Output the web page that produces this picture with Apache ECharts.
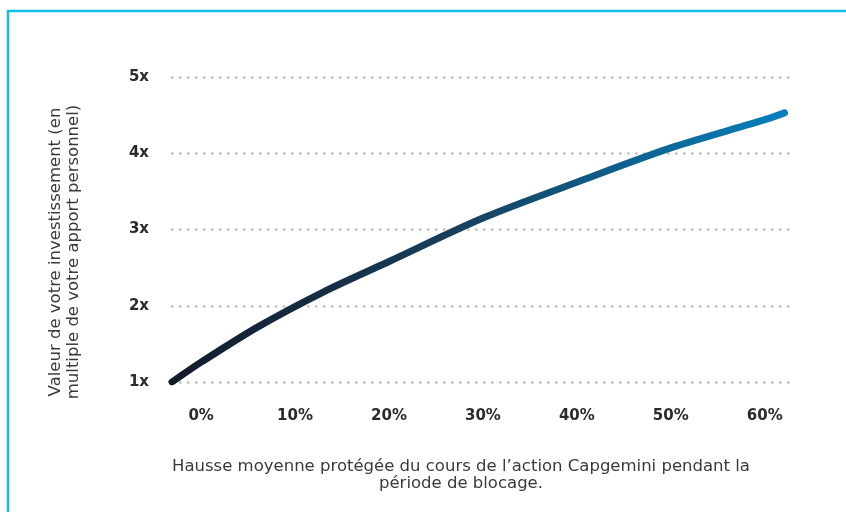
<!DOCTYPE html>
<html>
<head>
<meta charset="utf-8">
<script src="https://cdn.jsdelivr.net/npm/echarts@6/dist/echarts.min.js"></script>
<style>
  html, body { margin: 0; padding: 0; background: #fff; }
  #chart { width: 846px; height: 512px; }
</style>
</head>
<body>
<div id="chart"></div>
<script>
  // hausse moyenne protégée (%) et valeur de l'investissement (multiple)
  var hausse = [-3.1, 0, 6, 13, 20, 30, 40, 50, 60, 62.1];
  var valeur = [1.0, 1.26, 1.72, 2.18, 2.58, 3.15, 3.62, 4.07, 4.44, 4.53];
  var xTicks = [0, 10, 20, 30, 40, 50, 60];
  var yTicks = [1, 2, 3, 4, 5];

  var points = hausse.map(function (h, i) { return [h, valeur[i]]; });

  var myChart = echarts.init(document.getElementById('chart'));
  var textFont = '"DejaVu Sans", sans-serif';

  var option = {
    animation: false,
    grid: { left: 172, right: 54, top: 77, bottom: 130 },
    xAxis: {
      type: 'value',
      min: -3.1,
      max: 62.9,
      axisLine: { show: false },
      axisTick: { show: false },
      splitLine: { show: false },
      axisLabel: {
        customValues: xTicks,
        formatter: '{value}%',
        margin: 27,
        fontSize: 15,
        fontWeight: 'bold',
        fontFamily: textFont,
        color: '#2b2b2b'
      }
    },
    yAxis: {
      type: 'value',
      min: yTicks[0],
      max: yTicks[yTicks.length - 1],
      interval: 1,
      axisLine: { show: false },
      axisTick: { show: false },
      axisLabel: {
        formatter: '{value}x',
        margin: 23,
        fontSize: 15,
        fontWeight: 'bold',
        fontFamily: textFont,
        color: '#2b2b2b'
      },
      splitLine: {
        lineStyle: { color: '#c4c4c4', width: 2.5, type: [0.5, 7.5], cap: 'round' }
      }
    },
    series: [{
      type: 'line',
      data: points,
      smooth: 0.3,
      showSymbol: false,
      lineStyle: {
        width: 7,
        cap: 'round',
        color: new echarts.graphic.LinearGradient(0, 0, 1, 0, [
          { offset: 0, color: '#121a2b' },
          { offset: 0.45, color: '#173e5a' },
          { offset: 1, color: '#0680bd' }
        ])
      }
    }],
    graphic: [
      {
        type: 'line',
        shape: { x1: 8, y1: 11, x2: 846, y2: 11 },
        style: { stroke: '#0fbfe9', lineWidth: 2.5 }
      },
      {
        type: 'line',
        shape: { x1: 8, y1: 10, x2: 8, y2: 512 },
        style: { stroke: '#0fbfe9', lineWidth: 2.5 }
      },
      {
        type: 'text',
        x: 65,
        y: 252,
        rotation: Math.PI / 2,
        style: {
          text: 'Valeur de votre investissement (en\nmultiple de votre apport personnel)',
          fontSize: 16.5,
          fontFamily: textFont,
          lineHeight: 18,
          fill: '#3a3a3a',
          align: 'center',
          verticalAlign: 'middle'
        }
      },
      {
        type: 'text',
        x: 461,
        y: 475,
        style: {
          text: 'Hausse moyenne protégée du cours de l’action Capgemini pendant la\npériode de blocage.',
          fontSize: 16.5,
          fontFamily: textFont,
          lineHeight: 17,
          fill: '#3a3a3a',
          align: 'center',
          verticalAlign: 'middle'
        }
      }
    ]
  };
  myChart.setOption(option);
</script>
</body>
</html>
